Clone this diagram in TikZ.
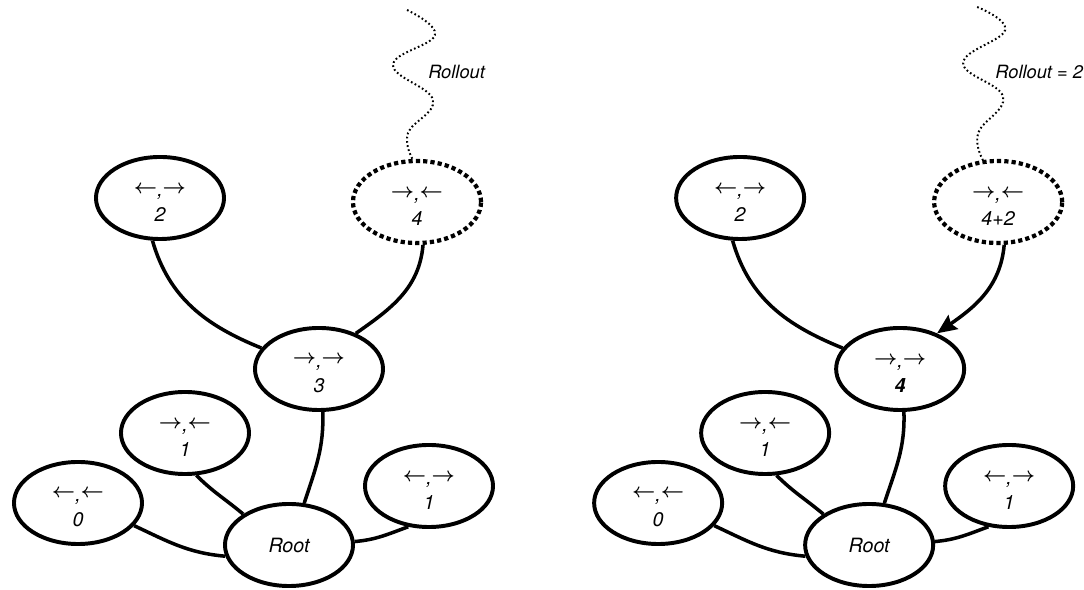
\documentclass[tikz,border=0pt]{standalone}
\usepackage{fontspec}
\setmainfont{TeX Gyre Heros}
\usetikzlibrary{shapes.geometric,arrows.meta}

\tikzset{
  state/.style={ellipse, draw, line width=2.8pt, minimum width=3.2cm,
    minimum height=2.05cm, inner sep=0pt, align=center,
    font=\fontsize{14}{20}\selectfont\itshape},
  leaf/.style={state, line width=3pt, dash pattern=on 3pt off 2.2pt},
  link/.style={line width=2.5pt},
  rollout/.style={line width=1.4pt, dash pattern=on 1.2pt off 1.8pt},
  note/.style={anchor=west, inner sep=0pt, font=\fontsize{13}{15}\selectfont\itshape},
}
\newcommand{\acts}[3]{\mbox{}\\[-7pt]{\boldmath$#1$\raisebox{-2.5pt}{,}$#2$}\\#3}

\begin{document}
\begin{tikzpicture}[x=0.025cm, y=0.025cm]
  \useasboundingbox (0,0) rectangle (1084,590);

  % Left tree: expansion and rollout
  \node[state] (root) at (289,45) {Root};
  \node[state] (n0) at (78,87) {\acts{\leftarrow}{\leftarrow}{0}};
  \node[state] (n1) at (185,157) {\acts{\rightarrow}{\leftarrow}{1}};
  \node[state] (n1r) at (429,104) {\acts{\leftarrow}{\rightarrow}{1}};
  \node[state] (n3) at (319,221) {\acts{\rightarrow}{\rightarrow}{3}};
  \node[state] (n2) at (160,392) {\acts{\leftarrow}{\rightarrow}{2}};
  \node[leaf] (n4) at (417,388) {\acts{\rightarrow}{\leftarrow}{4}};

  \draw[link] (n0.-22) to[out=-25, in=175] (root.190);
  \draw[link] (n1.285) to[out=-45, in=140] (root.146);
  \draw[link] (n1r.243) to[out=200, in=5] (root.3);
  \draw[link] (n3.275) to[out=-88, in=72] (root.70);
  \draw[link] (n2.260) to[out=-74, in=158] (n3.160);
  \draw[link] (n4.278) to[out=-95, in=35] (n3.44);

  % Rollout from the new leaf
  \coordinate (rtop) at (407,580);
  \draw[rollout] plot[smooth, tension=0.7] coordinates
    {(rtop) (435,555) (393,525) (433,490) (408,457) (n4.96)};
  \node[note] (rlabel) at (428,518) {Rollout};

  % Right tree: backup of the rollout value
  \begin{scope}[xshift=14.5cm]
    \node[state] (root b) at (289,45) {Root};
    \node[state] (n0 b) at (78,87) {\acts{\leftarrow}{\leftarrow}{0}};
    \node[state] (n1 b) at (185,157) {\acts{\rightarrow}{\leftarrow}{1}};
    \node[state] (n1r b) at (429,104) {\acts{\leftarrow}{\rightarrow}{1}};
    \node[state] (n3 b) at (320,221) {\acts{\rightarrow}{\rightarrow}{\textbf{4}}};
    \node[state] (n2 b) at (160,392) {\acts{\leftarrow}{\rightarrow}{2}};
    \node[leaf] (n4 b) at (418,388) {\acts{\rightarrow}{\leftarrow}{4+2}};

    \draw[link] (n0 b.-22) to[out=-25, in=175] (root b.190);
    \draw[link] (n1 b.285) to[out=-45, in=140] (root b.146);
    \draw[link] (n1r b.243) to[out=200, in=5] (root b.3);
    \draw[link] (n3 b.275) to[out=-88, in=72] (root b.70);
    \draw[link] (n2 b.260) to[out=-74, in=158] (n3 b.160);
    \draw[link, -{Stealth[length=14pt, width=12pt, inset=2pt]}]
      (n4 b.278) to[out=-95, in=35] (n3 b.44);

    \coordinate (rtop b) at (397,583);
    \draw[rollout] plot[smooth, tension=0.7] coordinates
      {(rtop b) (425,560) (383,527) (423,493) (398,457) (n4 b.110)};
    \node[note] (rlabel b) at (415,518) {Rollout = 2};
  \end{scope}
\end{tikzpicture}
\end{document}
